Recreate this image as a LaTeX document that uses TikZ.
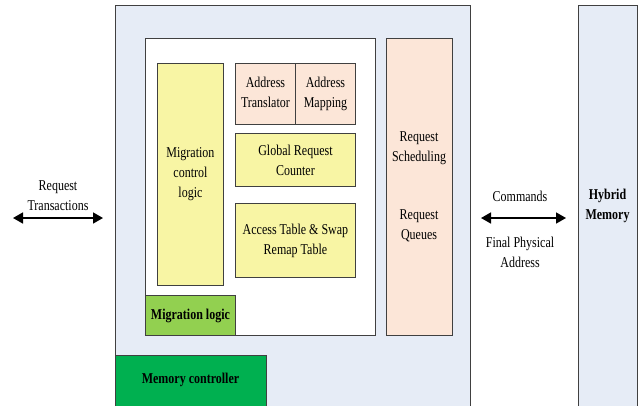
\documentclass[tikz,border=0pt]{standalone}
\usepackage{fontspec}
\setmainfont{Liberation Serif}[FakeStretch=0.8]
\usetikzlibrary{arrows.meta}
\definecolor{mcblue}{HTML}{E6ECF6}
\definecolor{yel}{HTML}{F8F5A4}
\definecolor{peach}{HTML}{FCE6D8}
\definecolor{lgreen}{HTML}{92D050}
\definecolor{dgreen}{HTML}{00B050}
\definecolor{edge}{HTML}{404040}
\tikzset{
  blk/.style={draw=edge, line width=0.9pt, inner sep=0pt, anchor=north west, align=center,
    font=\fontsize{15}{20}\selectfont},
  lbl/.style={inner sep=0pt, align=center, font=\fontsize{15}{20}\selectfont},
  bidir/.style={{Triangle[length=10pt,width=11pt]}-{Triangle[length=10pt,width=11pt]}, line width=1.6pt},
}
\begin{document}
\begin{tikzpicture}[x=1pt,y=-1pt]
\clip (0,0) rectangle (644,405);
\fill[white] (0,0) rectangle (644,405);
% memory controller outer
\node[blk, fill=mcblue, minimum width=355pt, minimum height=410pt] (mc) at (115,5) {};
\node[blk, fill=white, minimum width=230pt, minimum height=297pt] (ml) at (145,38) {};
\node[blk, fill=yel, minimum width=66pt, minimum height=222pt] (mcl) at (157,63) {Migration\\control\\logic};
\node[blk, fill=peach, minimum width=60pt, minimum height=61pt] (at) at (235,63) {\strut Address\\\strut Translator};
\node[blk, fill=peach, minimum width=60pt, minimum height=61pt] (am) at (295,63) {\strut Address\\\strut Mapping};
\node[blk, fill=yel, minimum width=120pt, minimum height=53pt] (grc) at (235,133) {Global Request\\Counter};
\node[blk, fill=yel, minimum width=120pt, minimum height=74pt] (acc) at (235,203) {Access Table \& Swap\\Remap Table};
\node[blk, fill=lgreen, minimum width=90pt, minimum height=40pt, font=\fontsize{15}{20}\selectfont\bfseries] (mlg) at (145,295) {Migration logic};
\node[blk, fill=peach, minimum width=66pt, minimum height=297pt] (rs) at (386,38) {};
\node[lbl] (rst) at (419,148) {Request\\Scheduling};
\node[lbl] (rq) at (419,226) {Request\\Queues};
\node[blk, fill=dgreen, minimum width=151pt, minimum height=60pt] (mctl) at (115,355) {};
\node[lbl, font=\fontsize{15}{20}\selectfont\bfseries] (mctlt) at (190.5,380) {Memory controller};
% hybrid memory
\node[blk, fill=mcblue, minimum width=59pt, minimum height=410pt] (hm) at (578,5) {};
\node[lbl, font=\fontsize{15}{20}\selectfont\bfseries] (hmt) at (607.5,206) {Hybrid\\Memory};
% arrows
\coordinate (la) at (13,218);
\coordinate (lb) at (103,218);
\draw[bidir] (la) -- (lb);
\node[lbl] (rt) at (58,196) {Request\\Transactions};
\coordinate (ra) at (481,218);
\coordinate (rb) at (566,218);
\draw[bidir] (ra) -- (rb);
\node[lbl] (cmd) at (520,196) {Commands};
\node[lbl] (fpa) at (520,252) {Final Physical\\Address};
\end{tikzpicture}
\end{document}
